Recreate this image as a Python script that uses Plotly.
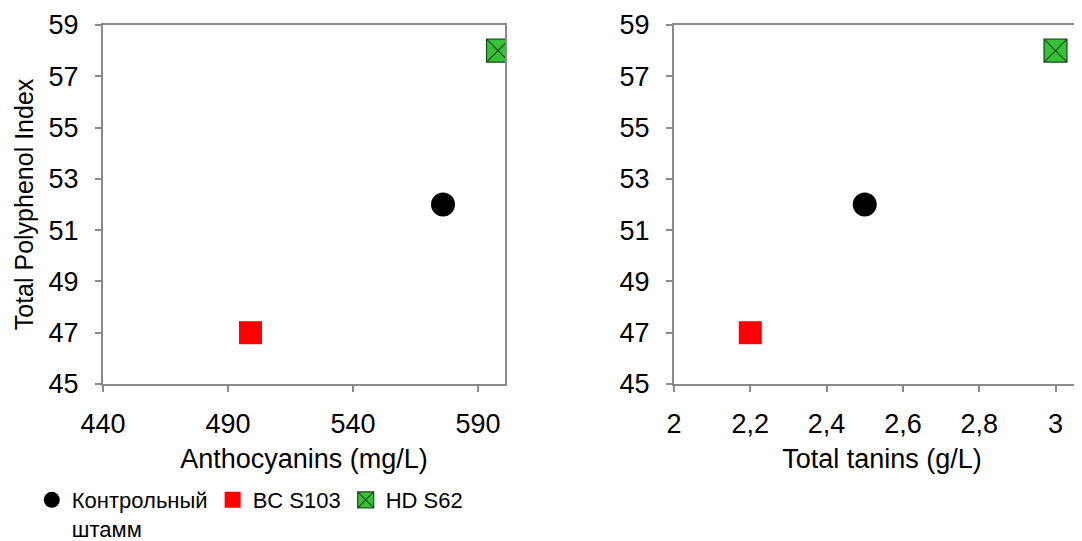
import plotly.graph_objects as go

# Data
strains = ["Контрольный<br>штамм", "BC S103", "HD S62"]
anthocyanins = [576, 499, 598]      # mg/L
total_tannins = [2.5, 2.2, 3.0]     # g/L
tpi = [52, 47, 58]                  # Total Polyphenol Index

symbols = ["circle", "square", "square-x"]
fills = ["#000000", "#ff0000", "#36c236"]
lines = ["#000000", "#d00000", "#1f4a1f"]
sizes = [24, 23, 23]

FONT = "Liberation Sans, Arial, sans-serif"
AX = "#8a8a8a"

fig = go.Figure()
for i, name in enumerate(strains):
    mk = dict(symbol=symbols[i], size=sizes[i], color=fills[i],
              line=dict(color=lines[i], width=1.2 if i == 2 else 0))
    fig.add_trace(go.Scatter(x=[anthocyanins[i]], y=[tpi[i]], mode="markers",
                             name=name, legendgroup=name, marker=mk,
                             xaxis="x", yaxis="y", showlegend=True))
    fig.add_trace(go.Scatter(x=[total_tannins[i]], y=[tpi[i]], mode="markers",
                             name=name, legendgroup=name, marker=mk,
                             xaxis="x2", yaxis="y2", showlegend=False))

W, H = 1082, 541
OFF = 8  # page body offset


def fx(px):
    return (px - OFF) / W


def fy(px):
    return 1 - (px - OFF) / H


ydom = [fy(384), fy(25)]
common = dict(showline=True, linecolor=AX, linewidth=2, ticks="outside",
              ticklen=6, tickwidth=1.5, tickcolor=AX, showgrid=False,
              zeroline=False, automargin=False,
              tickfont=dict(family=FONT, size=27, color="#000"))

fig.update_layout(
    width=W, height=H,
    margin=dict(l=0, r=0, t=0, b=0, pad=0, autoexpand=False),
    paper_bgcolor="white", plot_bgcolor="white",
    separators=", ",
    font=dict(family=FONT, size=27, color="#000"),
    xaxis=dict(domain=[fx(103), fx(505)], range=[440, 600.8], tick0=440, dtick=50,
               anchor="y", mirror=True, ticklabelstandoff=9,
               title=dict(text="Anthocyanins (mg/L)", standoff=11,
                          font=dict(family=FONT, size=27)), **common),
    yaxis=dict(domain=ydom, range=[45, 59], tick0=45, dtick=2, anchor="x",
               mirror=True, ticklabelstandoff=11,
               title=dict(text="Total Polyphenol Index", standoff=8,
                          font=dict(family=FONT, size=25)), **common),
    xaxis2=dict(domain=[fx(674), 1.0], range=[2, 2 + (W + OFF - 674) / 381.5],
                tick0=2, dtick=0.2,
                anchor="y2", mirror=True, ticklabelstandoff=9,
                title=dict(text="Total tanins (g/L)", standoff=11,
                           font=dict(family=FONT, size=27)), **common),
    yaxis2=dict(domain=ydom, range=[45, 59], tick0=45, dtick=2, anchor="x2",
                mirror=False, ticklabelstandoff=11, **common),
    legend=dict(orientation="h", x=0.022, y=1 - 471 / H, xanchor="left",
                yanchor="top", valign="top", bgcolor="rgba(0,0,0,0)",
                font=dict(family=FONT, size=22, color="#000"),
                itemclick=False),
)

fig.write_html("out.html")
